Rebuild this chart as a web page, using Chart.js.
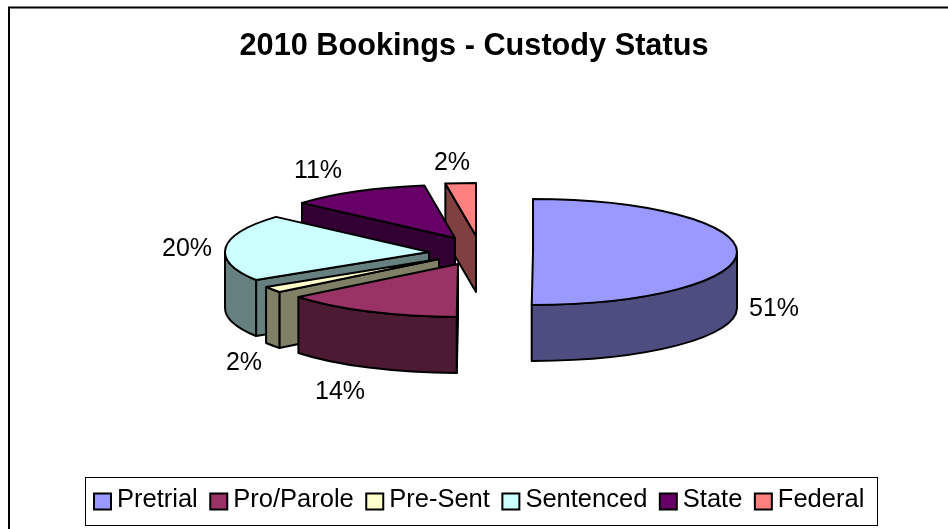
<!DOCTYPE html>
<html>
<head>
<meta charset="utf-8">
<style>html,body{margin:0;padding:0;background:#fff}canvas{display:block}</style>
<script src="https://cdn.jsdelivr.net/npm/chart.js@4"></script>
</head>
<body>
<canvas id="c" width="948" height="529"></canvas>
<script>
const titleText = '2010 Bookings - Custody Status';
const categories = ['Pretrial', 'Pro/Parole', 'Pre-Sent', 'Sentenced', 'State', 'Federal'];
const percentLabels = ['51%', '14%', '2%', '20%', '11%', '2%'];
const sliceShare = [50.1, 14.2, 1.8, 20.4, 11.1, 2.4];
const topColors = ['#9999FF', '#993366', '#FFFFCC', '#CCFFFF', '#660066', '#FF8080'];
const wallColors = ['#4D4D80', '#4D1A33', '#808066', '#668080', '#330033', '#804040'];

// 3D projection and explode offsets, relative to the chart's pie centre
const FONT = '"Liberation Sans", Arial, sans-serif';
const squash = 53 / 204;
const depth = 56;
const explodeX = [59, -16, -35, -45, -19, 2];
const explodeY = [0, 12, 7, 0, -14, -16];
const labelX = [300, -134, -230, -287, -156, -22];
const labelY = [57, 140, 111, -3, -81, -89];
const paintOrder = [5, 4, 3, 2, 1, 0];

const pie3d = {
  id: 'pie3d',
  beforeDraw(chart) {
    const ctx = chart.ctx;
    ctx.save();
    ctx.fillStyle = '#fff';
    ctx.fillRect(0, 0, chart.width, chart.height);
    ctx.strokeStyle = '#000';
    ctx.lineWidth = 2;
    ctx.beginPath();
    ctx.moveTo(9, chart.height);
    ctx.lineTo(9, 7.5);
    ctx.lineTo(chart.width, 7.5);
    ctx.stroke();
    ctx.restore();
  },
  beforeDatasetDraw(chart, args) {
    const ctx = chart.ctx;
    const arcs = chart.getDatasetMeta(args.index).data;
    ctx.save();
    ctx.lineWidth = 2;
    ctx.lineJoin = 'round';
    ctx.strokeStyle = '#000';
    paintOrder.forEach(i => {
      const arc = arcs[i];
      const cx = arc.x + explodeX[i], cy = arc.y + explodeY[i];
      const rx = arc.outerRadius, ry = rx * squash;
      const a0 = arc.startAngle, a1 = arc.endAngle;
      const px = a => cx + rx * Math.cos(a), py = a => cy + ry * Math.sin(a);
      ctx.fillStyle = wallColors[i];
      const face = a => {
        ctx.beginPath();
        ctx.moveTo(cx, cy);
        ctx.lineTo(px(a), py(a));
        ctx.lineTo(px(a), py(a) + depth);
        ctx.lineTo(cx, cy + depth);
        ctx.closePath();
        ctx.fill();
        ctx.stroke();
      };
      if (a0 > Math.PI / 2 && a0 < 1.5 * Math.PI) face(a0);
      if (a1 > -Math.PI / 2 && a1 < Math.PI / 2) face(a1);
      const lo = Math.max(a0, 0), hi = Math.min(a1, Math.PI);
      if (hi > lo) {
        ctx.beginPath();
        ctx.ellipse(cx, cy, rx, ry, 0, lo, hi);
        ctx.lineTo(px(hi), py(hi) + depth);
        ctx.ellipse(cx, cy + depth, rx, ry, 0, hi, lo, true);
        ctx.closePath();
        ctx.fill();
        ctx.stroke();
      }
      ctx.save();
      ctx.translate(cx, cy);
      ctx.scale(1, squash);
      ctx.translate(-arc.x, -arc.y);
      arc.draw(ctx);
      ctx.restore();
      ctx.beginPath();
      ctx.moveTo(cx, cy);
      ctx.ellipse(cx, cy, rx, ry, 0, a0, a1);
      ctx.closePath();
      ctx.stroke();
    });
    ctx.restore();
    return false;
  },
  afterDraw(chart) {
    const ctx = chart.ctx;
    const arcs = chart.getDatasetMeta(0).data;
    ctx.save();
    ctx.fillStyle = '#000';
    ctx.font = '25px ' + FONT;
    ctx.textAlign = 'center';
    ctx.textBaseline = 'middle';
    percentLabels.forEach((text, i) => {
      ctx.fillText(text, arcs[i].x + labelX[i], arcs[i].y + labelY[i]);
    });
    // legend
    ctx.strokeStyle = '#000';
    ctx.lineWidth = 1;
    ctx.strokeRect(85.5, 477.5, 792, 48);
    ctx.font = '25.5px ' + FONT;
    ctx.textAlign = 'left';
    ctx.textBaseline = 'alphabetic';
    let x = 94;
    ctx.lineWidth = 2;
    categories.forEach((name, i) => {
      ctx.fillStyle = topColors[i];
      ctx.fillRect(x, 493.5, 17, 16);
      ctx.strokeRect(x, 493.5, 17, 16);
      ctx.fillStyle = '#000';
      ctx.fillText(name, x + 23, 507);
      x += 23 + ctx.measureText(name).width + 12.5;
    });
    ctx.restore();
  }
};

new Chart(document.getElementById('c'), {
  type: 'pie',
  data: {
    labels: categories,
    datasets: [{ data: sliceShare, backgroundColor: topColors, borderWidth: 0 }]
  },
  options: {
    responsive: false,
    animation: false,
    devicePixelRatio: 1,
    radius: 204,
    layout: { padding: { bottom: 95 } },
    plugins: {
      legend: { display: false },
      tooltip: { enabled: false },
      title: {
        display: true,
        text: titleText,
        color: '#000',
        font: { family: FONT, size: 30.7, weight: 'bold', lineHeight: 1.2 },
        padding: { top: 28, bottom: 5 }
      }
    }
  },
  plugins: [pie3d]
});
</script>
</body>
</html>
